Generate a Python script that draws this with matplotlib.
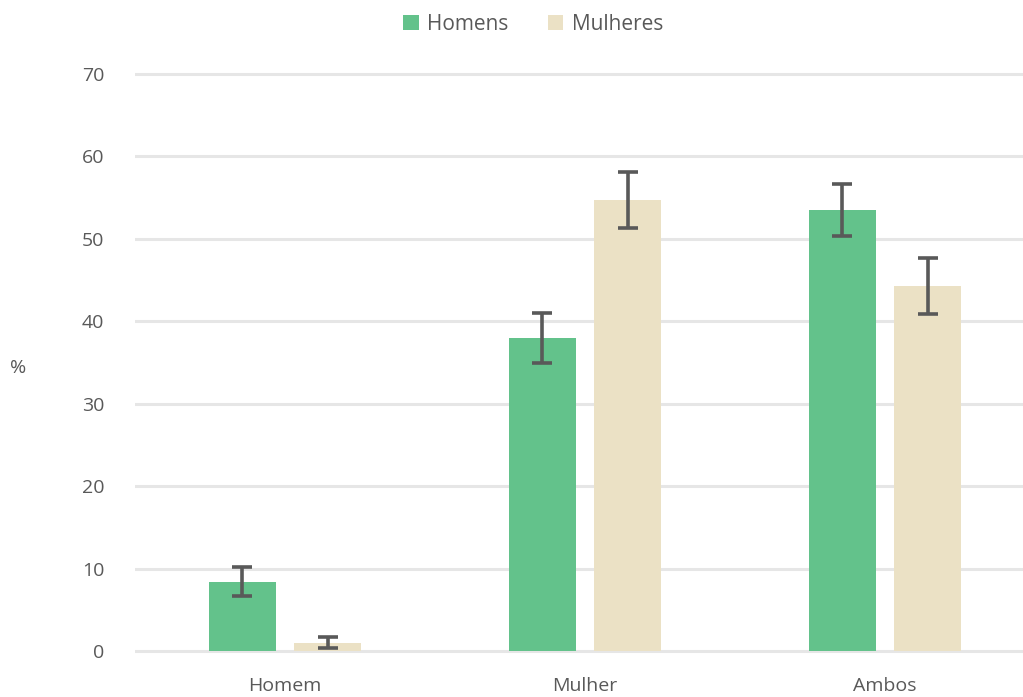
import numpy as np
import matplotlib.pyplot as plt

categorias = ['Homem', 'Mulher', 'Ambos']
homens = [8.4, 38.0, 53.5]
homens_lo = [6.7, 34.9, 50.3]
homens_hi = [10.2, 41.0, 56.7]
mulheres = [1.0, 54.7, 44.3]
mulheres_lo = [0.4, 51.3, 40.9]
mulheres_hi = [1.7, 58.1, 47.7]
yticks = [0, 10, 20, 30, 40, 50, 60, 70]

verde = '#63c28b'
bege = '#ebe1c5'
cinza = '#595959'

plt.rcParams['font.family'] = ['Open Sans', 'DejaVu Sans']

fig = plt.figure(figsize=(10.23, 6.97), dpi=100)
ax = fig.add_axes([135 / 1023, 0.0624, 1 - 135 / 1023, 0.8974 - 0.0624])

x = np.arange(len(categorias))
w = 0.223
off = 0.1417

err_h = [np.array(homens) - np.array(homens_lo), np.array(homens_hi) - np.array(homens)]
err_m = [np.array(mulheres) - np.array(mulheres_lo), np.array(mulheres_hi) - np.array(mulheres)]

ax.bar(x - off, homens, w, color=verde, label='Homens', zorder=2)
ax.bar(x + off, mulheres, w, color=bege, label='Mulheres', zorder=2)
ax.errorbar(x - off, homens, yerr=err_h, fmt='none', ecolor=cinza,
            elinewidth=2.6, capsize=7.5, capthick=2.6, zorder=3)
ax.errorbar(x + off, mulheres, yerr=err_m, fmt='none', ecolor=cinza,
            elinewidth=2.6, capsize=7.5, capthick=2.6, zorder=3)

ax.set_xlim(-0.5, (1023 - 285) / 300)
ax.set_ylim(-0.3, 70.3)
ax.set_yticks(yticks)
ax.set_xticks(x)
ax.set_xticklabels(categorias)
ax.grid(axis='y', color='#e6e6e6', linewidth=2.2, zorder=0)
ax.set_axisbelow(True)
for s in ax.spines.values():
    s.set_visible(False)
ax.tick_params(axis='both', length=0, labelsize=14, colors=cinza)
ax.tick_params(axis='y', pad=22)
ax.tick_params(axis='x', pad=17)

fig.text(18 / 1023, 1 - 368 / 697, '%', fontsize=14, color=cinza, ha='center', va='center')

leg = fig.legend(loc='center', bbox_to_anchor=(533 / 1023, 1 - 24 / 697), ncol=2,
                 frameon=False, fontsize=15, handlelength=0.75, handleheight=0.75,
                 handletextpad=0.4, columnspacing=1.9)
for t in leg.get_texts():
    t.set_color(cinza)

plt.savefig('out.png', dpi=100)
